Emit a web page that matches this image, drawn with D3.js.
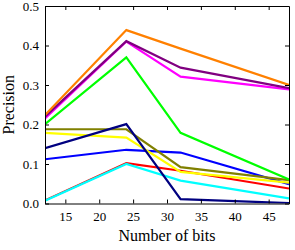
<!DOCTYPE html>
<html>
<head>
<meta charset="utf-8">
<script src="https://cdn.jsdelivr.net/npm/d3@7"></script>
<style>
  body { margin: 0; background: #fff; }
  text { font-family: "Liberation Serif", "DejaVu Serif", serif; fill: #000; }
</style>
</head>
<body>
<div id="chart"></div>
<script>
var w = 295, h = 250;
var margin = {top: 6, right: 6, bottom: 46.5, left: 45}; // plot box goes 45..289 x 6..203.5

// x values (number of bits)
var bits = [12, 24, 32, 48];

// one array per curve
var red     = [0.008, 0.102, 0.083, 0.038];
var cyan    = [0.007, 0.100, 0.058, 0.013];
var blue    = [0.112, 0.136, 0.129, 0.049];
var yellow  = [0.179, 0.167, 0.080, 0.053];
var olive   = [0.188, 0.188, 0.092, 0.059];
var navy    = [0.140, 0.201, 0.011, 0.001];
var green   = [0.201, 0.370, 0.179, 0.061];
var magenta = [0.215, 0.410, 0.321, 0.289];
var purple  = [0.220, 0.411, 0.344, 0.292];
var orange  = [0.224, 0.439, 0.392, 0.300];

var series = [
  {values: red, color: "#ff0000"},
  {values: cyan, color: "#00ffff"},
  {values: blue, color: "#0000ff"},
  {values: yellow, color: "#ffff00"},
  {values: olive, color: "#808000"},
  {values: navy, color: "#000080"},
  {values: green, color: "#00ff00"},
  {values: magenta, color: "#ff00ff"},
  {values: purple, color: "#800080"},
  {values: orange, color: "#ff8000"}
];

var xTicks = [15, 20, 25, 30, 35, 40, 45];
var yTicks = [0.0, 0.1, 0.2, 0.3, 0.4, 0.5];

var svg = d3.select("#chart").append("svg")
    .attr("width", w)
    .attr("height", h);

var x = d3.scaleLinear().domain([12, 48]).range([margin.left, w - margin.right]);
var y = d3.scaleLinear().domain([0, 0.5]).range([h - margin.bottom, margin.top]);

var line = d3.line()
    .x(function(d, i) { return x(bits[i]); })
    .y(function(d) { return y(d); });

// clip so the lines don't poke past the frame
svg.append("clipPath").attr("id", "clip")
  .append("rect")
    .attr("x", x.range()[0]).attr("y", y.range()[1])
    .attr("width", x.range()[1] - x.range()[0])
    .attr("height", y.range()[0] - y.range()[1]);

svg.append("g").attr("clip-path", "url(#clip)")
  .selectAll("path")
  .data(series)
  .enter()
  .append("path")
    .attr("d", function(d) { return line(d.values); })
    .attr("fill", "none")
    .attr("stroke", function(d) { return d.color; })
    .attr("stroke-width", 2.2)
    .attr("stroke-linejoin", "miter");

// axes with inward ticks on all four sides
var tickLen = 4;
var bottom = svg.append("g")
    .attr("transform", "translate(0," + y.range()[0] + ")")
    .call(d3.axisBottom(x).tickValues(xTicks).tickSizeInner(-tickLen).tickSizeOuter(0).tickPadding(8));
var top_ = svg.append("g")
    .attr("transform", "translate(0," + y.range()[1] + ")")
    .call(d3.axisTop(x).tickValues(xTicks).tickSizeInner(-tickLen).tickSizeOuter(0).tickFormat(""));
var left = svg.append("g")
    .attr("transform", "translate(" + x.range()[0] + ",0)")
    .call(d3.axisLeft(y).tickValues(yTicks).tickSizeInner(-tickLen).tickSizeOuter(0).tickPadding(6).tickFormat(d3.format(".1f")));
var right = svg.append("g")
    .attr("transform", "translate(" + x.range()[1] + ",0)")
    .call(d3.axisRight(y).tickValues(yTicks).tickSizeInner(-tickLen).tickSizeOuter(0).tickFormat(""));

[bottom, top_, left, right].forEach(function(g) {
  g.selectAll(".domain").attr("stroke", "#000").attr("stroke-width", 1);
  g.selectAll(".tick line").attr("stroke", "#000").attr("stroke-width", 1);
  g.selectAll("text").attr("font-family", "Liberation Serif").attr("font-size", 13).attr("fill", "#000");
});

svg.append("text")
    .attr("x", (x.range()[0] + x.range()[1]) / 2)
    .attr("y", 241)
    .attr("text-anchor", "middle")
    .attr("font-size", 16)
    .text("Number of bits");

svg.append("text")
    .attr("transform", "translate(14," + ((y.range()[0] + y.range()[1]) / 2) + ") rotate(-90)")
    .attr("text-anchor", "middle")
    .attr("font-size", 16)
    .text("Precision");
</script>
</body>
</html>
